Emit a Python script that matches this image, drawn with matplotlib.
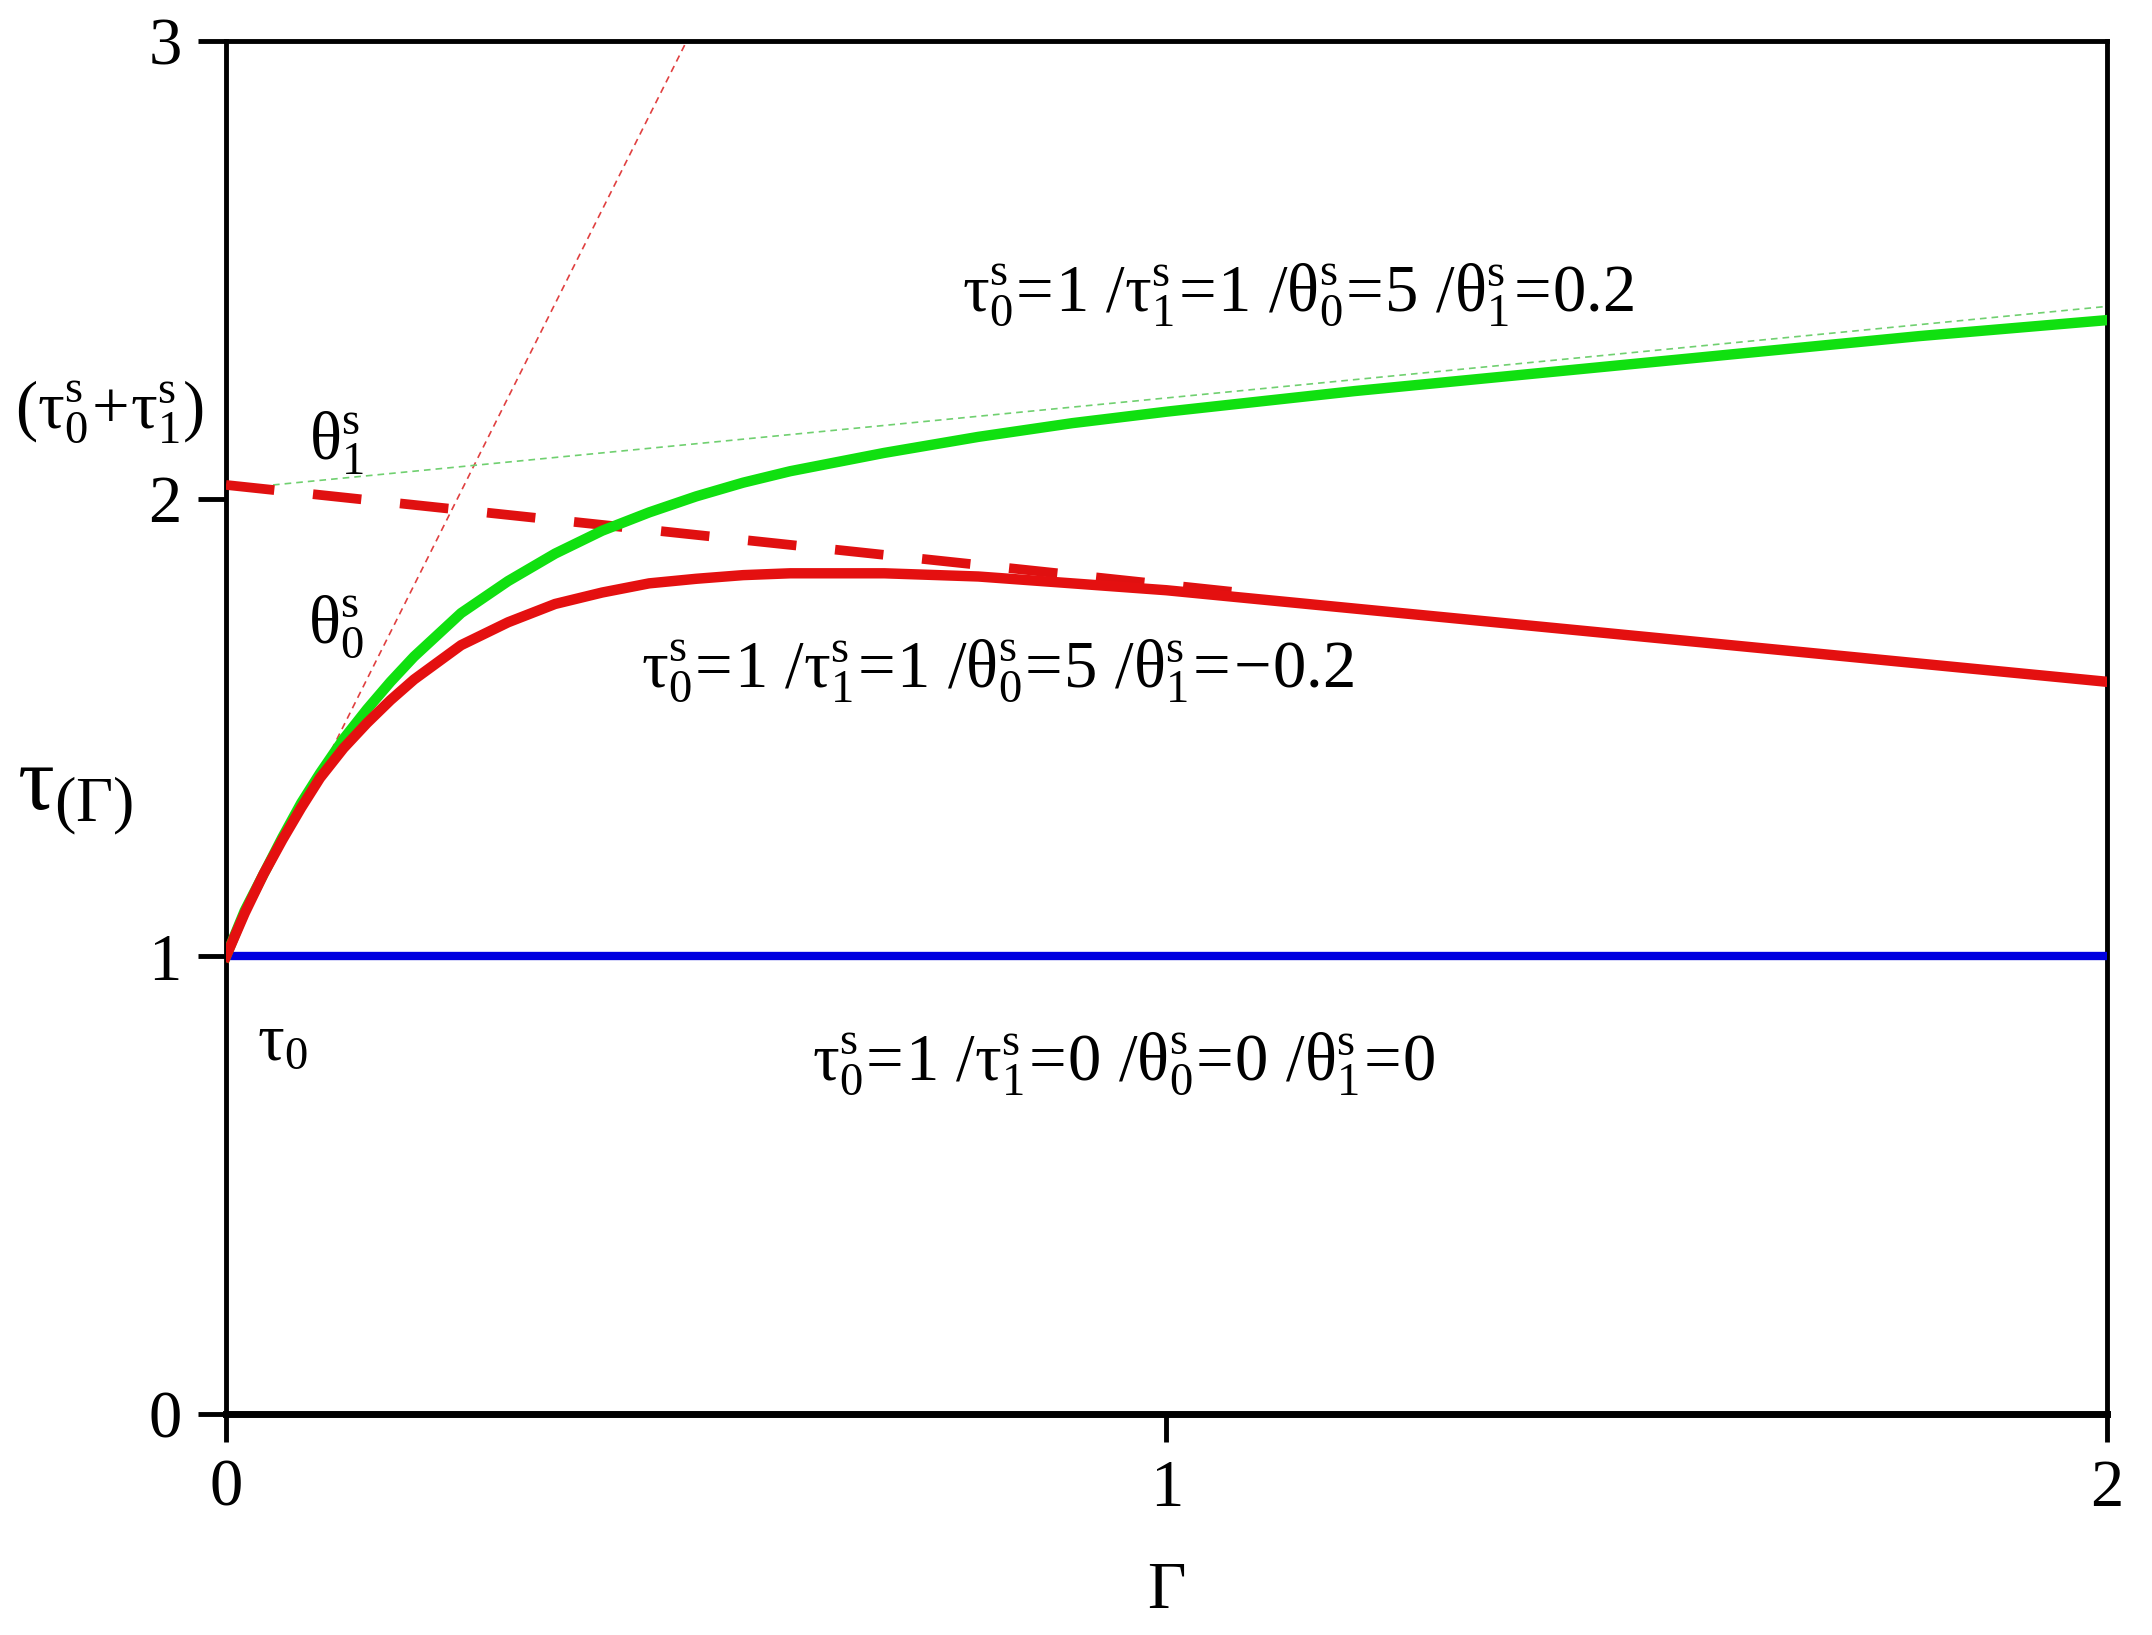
import numpy as np
import matplotlib.pyplot as plt

plt.rcParams['font.family'] = ['Liberation Serif', 'DejaVu Serif']
plt.rcParams['mathtext.fontset'] = 'custom'
plt.rcParams['mathtext.rm'] = 'Liberation Serif'
plt.rcParams['mathtext.it'] = 'Liberation Serif'
plt.rcParams['mathtext.default'] = 'regular'

# values
gamma = [0.0, 0.02, 0.04, 0.06, 0.08, 0.10, 0.125, 0.15, 0.175, 0.20, 0.25,
         0.30, 0.35, 0.40, 0.45, 0.50, 0.55, 0.60, 0.70, 0.80, 0.90, 1.00,
         1.20, 1.40, 1.60, 1.80, 2.00]
tau_pos = [1.00, 1.10, 1.18, 1.26, 1.335, 1.40, 1.475, 1.54, 1.60, 1.655, 1.75,
           1.82, 1.88, 1.93, 1.97, 2.005, 2.035, 2.06, 2.10, 2.135, 2.165, 2.19,
           2.235, 2.275, 2.315, 2.355, 2.39]
tau_neg = [1.00, 1.095, 1.18, 1.255, 1.325, 1.39, 1.455, 1.51, 1.56, 1.605, 1.68,
           1.73, 1.77, 1.795, 1.815, 1.825, 1.833, 1.837, 1.837, 1.83, 1.815, 1.80,
           1.76, 1.72, 1.68, 1.64, 1.60]
tau_flat = [1.0, 1.0]
flat_x = [0.0, 2.0]

# asymptotes / initial slope
red_dash_x = [0.0, 1.10]
red_dash_y = [2.03, 1.79]
green_dash_x = [0.05, 2.0]
green_dash_y = [2.03, 2.42]
slope_x = [0.09, 0.49]
slope_y = [1.36, 3.0]

fig = plt.figure(figsize=(21.52, 16.35), dpi=100)
ax = fig.add_axes([0.105, 0.135, 0.874, 0.840])

ax.plot(slope_x, slope_y, color='#e04040', lw=1.2, ls=(0, (4, 3)), zorder=2)
ax.plot(green_dash_x, green_dash_y, color='#70d070', lw=1.2, ls=(0, (4, 3)), zorder=2)
ax.plot(red_dash_x, red_dash_y, color='#e01010', lw=7, ls=(0, (5, 4)), zorder=3)
ax.plot(flat_x, tau_flat, color='#0000e0', lw=6, zorder=3)
ax.plot(gamma, tau_pos, color='#10e010', lw=7.5, zorder=4)
ax.plot(gamma, tau_neg, color='#e41010', lw=7.5, zorder=5)

ax.set_xlim(0, 2)
ax.set_ylim(0, 3)
ax.set_xticks([0, 1, 2])
ax.set_yticks([0, 1, 2, 3])
ax.tick_params(direction='out', length=20, width=3.5, labelsize=48, pad=12)
for s in ax.spines.values():
    s.set_linewidth(3.5)
ax.spines['bottom'].set_linewidth(5)

fs = 48
ax.text(1.14, 2.445, r'$\tau_0^s\!=\!1\ /\tau_1^s\!=\!1\ /\theta_0^s\!=\!5\ /\theta_1^s\!=\!0.2$',
        ha='center', va='center', fontsize=fs)
ax.text(0.82, 1.625, r'$\tau_0^s\!=\!1\ /\tau_1^s\!=\!1\ /\theta_0^s\!=\!5\ /\theta_1^s\!=\!\!-\!0.2$',
        ha='center', va='center', fontsize=fs)
ax.text(0.955, 0.765, r'$\tau_0^s\!=\!1\ /\tau_1^s\!=\!0\ /\theta_0^s\!=\!0\ /\theta_1^s\!=\!0$',
        ha='center', va='center', fontsize=fs)
ax.text(0.117, 2.12, r'$\theta_1^s$', ha='center', va='center', fontsize=fs)
ax.text(0.117, 1.72, r'$\theta_0^s$', ha='center', va='center', fontsize=fs)
ax.text(0.06, 0.81, r'$\tau_0$', ha='center', va='center', fontsize=fs)

ax.text(-0.124, 2.19, r'$(\tau_0^s\!+\!\tau_1^s)$', ha='center', va='center',
        fontsize=fs, clip_on=False)
ax.text(-0.16, 1.35, r'$\tau_{(\Gamma)}$', ha='center', va='center',
        fontsize=66, clip_on=False)
ax.set_xlabel(r'$\Gamma$', fontsize=48, labelpad=30)

fig.savefig('out.png', dpi=100)
